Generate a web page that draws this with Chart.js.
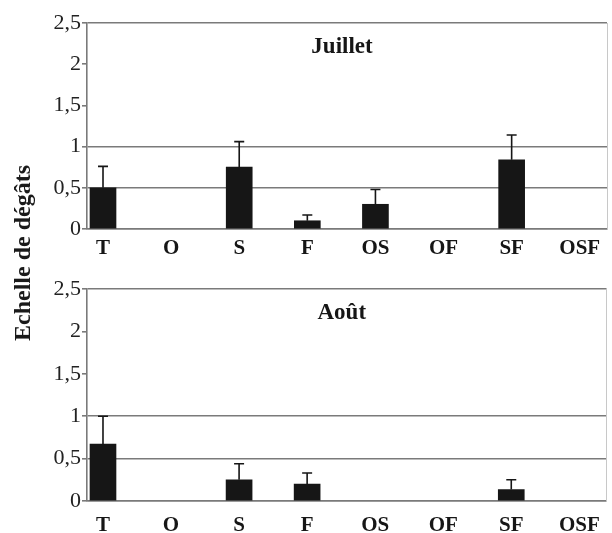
<!DOCTYPE html>
<html>
<head>
<meta charset="utf-8">
<script src="https://cdn.jsdelivr.net/npm/chart.js@4"></script>
<style>
	html, body { margin: 0; padding: 0; background: #fff; }
	#wrap { position: relative; width: 612px; height: 533px; overflow: hidden; }
	#wrap canvas { position: absolute; left: 0; }
	#ytitle {
		position: absolute; left: -126px; top: 238px; width: 300px; height: 30px;
		line-height: 30px; text-align: center; transform: rotate(-90deg);
		font: bold 24px 'Liberation Serif', serif; color: #1a1a1a; white-space: nowrap;
	}
</style>
</head>
<body>
<div id="wrap">
	<canvas id="july" width="612" height="266" style="top:0"></canvas>
	<canvas id="august" width="612" height="267" style="top:266px"></canvas>
	<div id="ytitle">Echelle de dégâts</div>
</div>
<script>
// treatments on the x axis
const categories = ['T', 'O', 'S', 'F', 'OS', 'OF', 'SF', 'OSF'];
// mean damage score per treatment (null = no bar)
const julyValues = [0.5, null, 0.75, 0.1, 0.3, null, 0.84, null];
const julyErrors = [0.26, 0, 0.31, 0.07, 0.18, 0, 0.30, 0];
const augustValues = [0.67, null, 0.25, 0.2, null, null, 0.135, null];
const augustErrors = [0.33, 0, 0.19, 0.13, 0, 0, 0.115, 0];
const yTicks = [0, 0.5, 1, 1.5, 2, 2.5];
const hiddenGrid = [1.5, 2]; // ticks with a mark but no line across the plot

const GREY = '#7a7a7a';
const INK = '#161616';
const SERIF = "'Liberation Serif', serif";

// one-sided (upper) error bars, positioned through the chart's own scales
const errorBars = {
	id: 'errorBars',
	afterDatasetsDraw(chart, args, opts) {
		const { ctx, scales: { y } } = chart;
		const ds = chart.data.datasets[0];
		ctx.save();
		ctx.strokeStyle = INK;
		ctx.lineWidth = 1.6;
		chart.getDatasetMeta(0).data.forEach((bar, i) => {
			const e = opts.errors[i];
			if (!e || ds.data[i].y == null) return;
			const top = y.getPixelForValue(ds.data[i].y + e);
			ctx.beginPath();
			ctx.moveTo(bar.x, bar.y);
			ctx.lineTo(bar.x, top);
			ctx.moveTo(bar.x - 5, top);
			ctx.lineTo(bar.x + 5, top);
			ctx.stroke();
		});
		ctx.restore();
	},
};

// month name written inside the plot area
const panelTitle = {
	id: 'panelTitle',
	afterDraw(chart, args, opts) {
		const { ctx, chartArea } = chart;
		ctx.save();
		ctx.font = `bold 23px ${SERIF}`;
		ctx.fillStyle = INK;
		ctx.textAlign = 'center';
		ctx.textBaseline = 'alphabetic';
		ctx.fillText(opts.text, (chartArea.left + chartArea.right) / 2 - 5, chartArea.top + 30);
		ctx.restore();
	},
};

function makePanel(id, title, values, errors, xHeight, labelPad) {
	return new Chart(document.getElementById(id), {
		type: 'bar',
		data: {
			datasets: [{
				data: values.map((v, i) => ({ x: i, y: v })),
				backgroundColor: INK,
				borderWidth: 0,
				barThickness: 26,
			}],
		},
		plugins: [errorBars, panelTitle],
		options: {
			responsive: false,
			animation: false,
			layout: { padding: { top: 23, left: 0, right: 0, bottom: 0 } },
			scales: {
				x: {
					type: 'linear',
					offset: false,
					min: -0.235,
					max: 7.4,
					afterFit: s => { s.height = xHeight; },
					afterBuildTicks: s => { s.ticks = categories.map((c, i) => ({ value: i })); },
					ticks: {
						autoSkip: false,
						maxRotation: 0,
						padding: labelPad,
						color: INK,
						font: { family: SERIF, size: 21, weight: 'bold' },
						callback: v => categories[v] ?? '',
					},
					grid: { display: false, drawTicks: false },
					border: { color: GREY, width: 1.6 },
				},
				y: {
					min: 0,
					max: 2.5,
					afterFit: s => { s.width = 87; },
					afterBuildTicks: s => { s.ticks = yTicks.map(value => ({ value })); },
					ticks: {
						padding: 1,
						color: '#222',
						font: { family: SERIF, size: 22 },
						callback: v => String(v).replace('.', ','),
					},
					grid: {
						color: c => hiddenGrid.includes(c.tick?.value) ? 'rgba(0,0,0,0)' : GREY,
						tickColor: GREY,
						tickLength: 5,
						lineWidth: 1.6,
					},
					border: { color: GREY, width: 1.6 },
				},
				right: {
					type: 'linear',
					position: 'right',
					afterFit: s => { s.width = 5; },
					ticks: { display: false },
					grid: { display: false, drawTicks: false },
					border: { color: '#c8c8c8', width: 1 },
				},
			},
			plugins: {
				legend: { display: false },
				tooltip: { enabled: false },
				errorBars: { errors },
				panelTitle: { text: title },
			},
		},
	});
}

makePanel('july', 'Juillet', julyValues, julyErrors, 37, 7);
makePanel('august', 'Août', augustValues, augustErrors, 32, 12);
</script>
</body>
</html>
